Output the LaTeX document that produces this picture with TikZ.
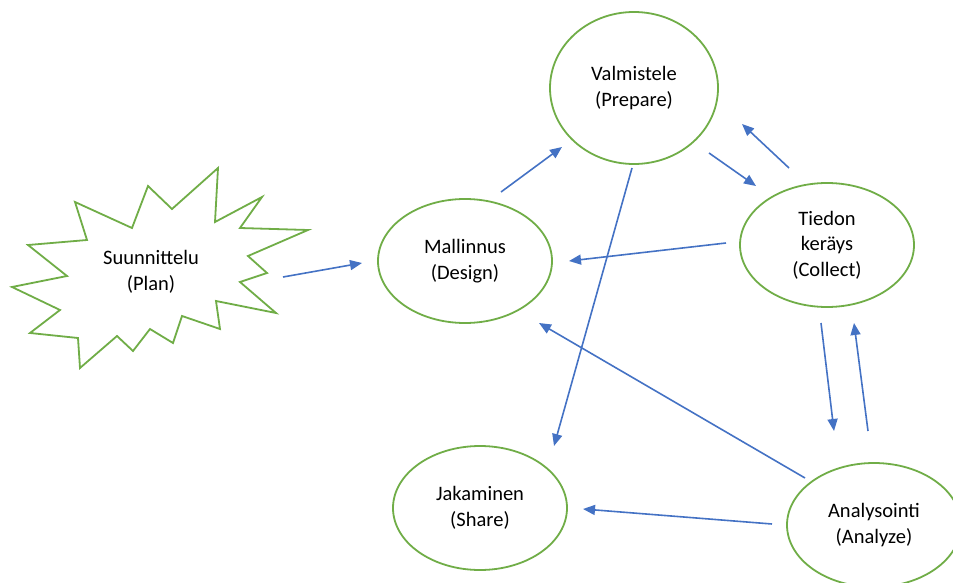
\documentclass[tikz,border=0pt]{standalone}
\usepackage{fontspec}
\setmainfont{Carlito}
\usetikzlibrary{shapes.geometric,arrows.meta}
\definecolor{stepgreen}{HTML}{70AD47}
\definecolor{flowblue}{HTML}{4472C4}
\tikzset{
  phase/.style={ellipse, draw=stepgreen, line width=1.8pt, fill=white, inner sep=0pt,
    minimum width=174pt, minimum height=124pt, align=center,
    font=\fontsize{20.5}{25.5}\selectfont},
  label/.style={align=center, font=\fontsize{20.5}{25.5}\selectfont},
  flow/.style={draw=flowblue, line width=1.6pt, -{Triangle[length=12pt,width=10pt]}},
  burst/.style={draw=stepgreen, line width=1.8pt, line join=miter, fill=white}
}
\begin{document}
\begin{tikzpicture}[x=1pt,y=-1pt]
\useasboundingbox (0,0) rectangle (953,583);
% starburst
\draw[burst] (75,202) -- (132,228) -- (148,186) -- (172,209) -- (218,168) -- (215,222)
  -- (262,197) -- (240,228) -- (308,230) -- (248,256) -- (267,273) -- (240,282)
  -- (276,313) -- (216,301) -- (220,329) -- (182,316) -- (173,343) -- (150,329)
  -- (133,351) -- (117,336) -- (80,368) -- (78,338) -- (30,333) -- (60,310)
  -- (12,287) -- (67,276) -- (28,245) -- (87,240) -- cycle;
\node[label] (plan) at (151,272) {Suunnittelu\\(Plan)};
% ellipses
\node[phase, minimum width=168pt, minimum height=152pt] (prep) at (634,88) {Valmistele\\(Prepare)};
\node[phase] (design) at (465,261) {Mallinnus\\(Design)};
\node[phase] (collect) at (827,245) {Tiedon\\keräys\\(Collect)};
\node[phase] (share) at (480,508) {Jakaminen\\(Share)};
\node[phase] (analyze) at (874,525) {Analysointi\\(Analyze)};
% arrow endpoints
\coordinate (a1s) at (283,277); \coordinate (a1e) at (362,263);
\coordinate (a2s) at (501,192); \coordinate (a2e) at (562,147);
\coordinate (a3s) at (709,153); \coordinate (a3e) at (756,186);
\coordinate (a4s) at (789,168); \coordinate (a4e) at (742,124);
\coordinate (a5s) at (726,243); \coordinate (a5e) at (569,261);
\coordinate (a6s) at (632,168); \coordinate (a6e) at (554,446);
\coordinate (a7s) at (821,323); \coordinate (a7e) at (834,431);
\coordinate (a8s) at (868,431); \coordinate (a8e) at (854,323);
\coordinate (a9s) at (805,478); \coordinate (a9e) at (539,323);
\coordinate (a10s) at (772,524); \coordinate (a10e) at (583,509);
\draw[flow] (a1s) -- (a1e);
\draw[flow] (a2s) -- (a2e);
\draw[flow] (a3s) -- (a3e);
\draw[flow] (a4s) -- (a4e);
\draw[flow] (a5s) -- (a5e);
\draw[flow] (a6s) -- (a6e);
\draw[flow] (a7s) -- (a7e);
\draw[flow] (a8s) -- (a8e);
\draw[flow] (a9s) -- (a9e);
\draw[flow] (a10s) -- (a10e);
\end{tikzpicture}
\end{document}
